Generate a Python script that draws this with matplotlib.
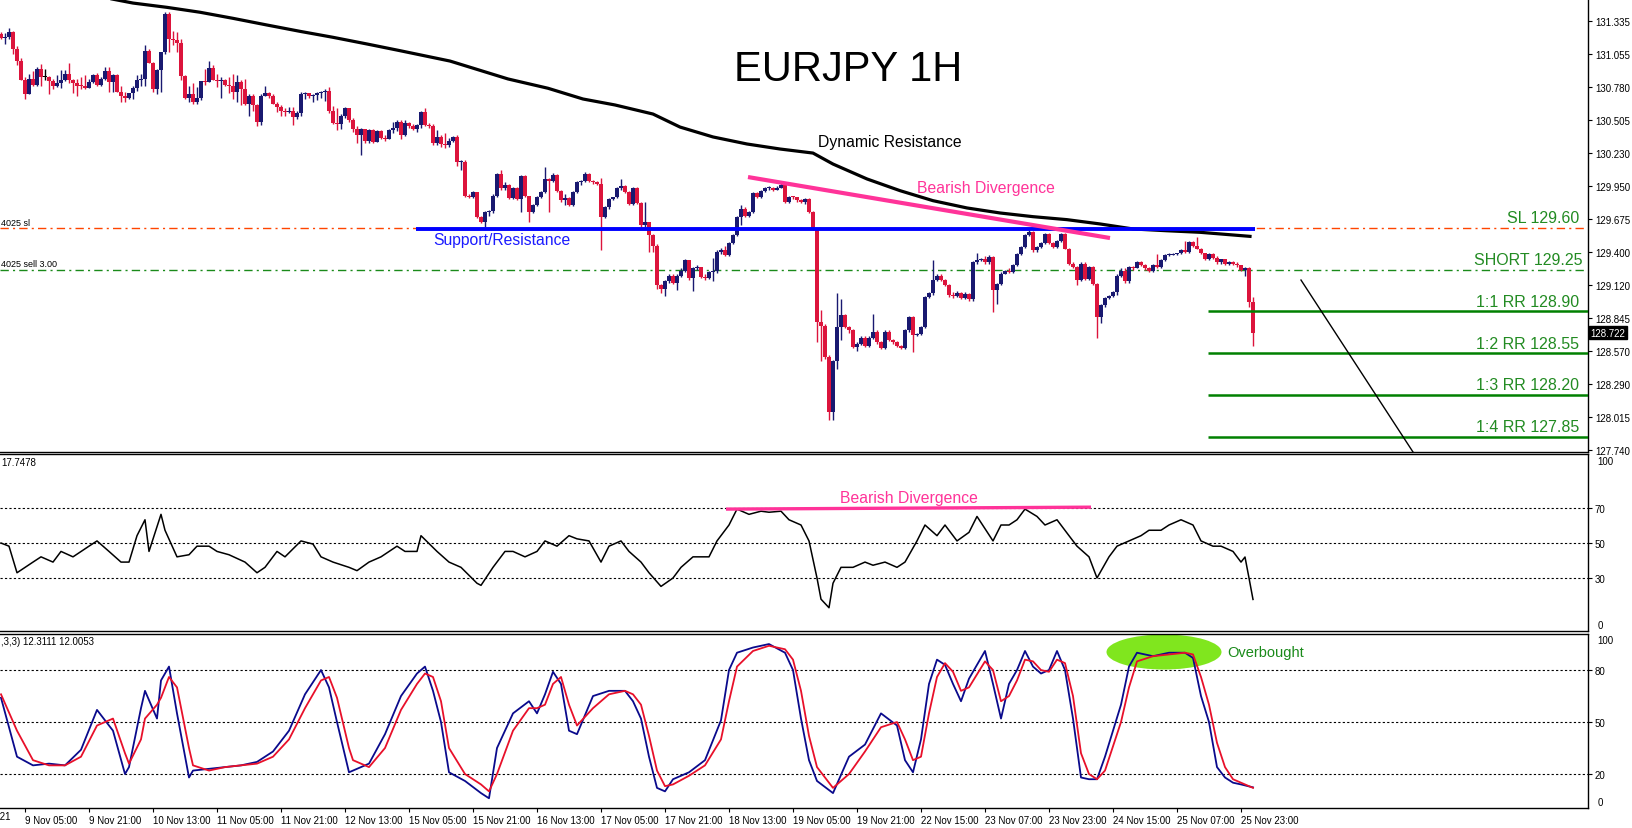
import numpy as np
import matplotlib
matplotlib.use("Agg")
import matplotlib.pyplot as plt
from matplotlib.patches import Ellipse
from matplotlib.transforms import blended_transform_factory as blend

plt.rcParams['font.family'] = ['Liberation Sans', 'DejaVu Sans']

W, H = 1632, 829

# ------- price data (1H candles, open = previous close) -------
first_open = 131.22
closes = [
    131.19, 131.20, 131.24, 131.10, 131.00, 130.84, 130.72, 130.85, 130.80, 130.93,
    130.86, 130.86, 130.83, 130.79, 130.81, 130.84, 130.89, 130.84, 130.81, 130.79,
    130.785, 130.77, 130.82, 130.88, 130.80, 130.85, 130.91, 130.82, 130.88, 130.74,
    130.70, 130.69, 130.73, 130.77, 130.84, 130.845, 131.08, 130.98, 130.76, 130.92,
    131.07, 131.39, 131.18, 131.175, 131.15, 130.87, 130.69, 130.72, 130.65, 130.69,
    130.83, 130.82, 130.94, 130.84, 130.83, 130.835, 130.80, 130.79, 130.74, 130.82,
    130.76, 130.64, 130.70, 130.63, 130.49, 130.70, 130.73, 130.70, 130.64, 130.61,
    130.58, 130.57, 130.58, 130.53, 130.56, 130.72, 130.73, 130.70, 130.71, 130.73,
    130.74, 130.75, 130.58, 130.48, 130.47, 130.54, 130.60, 130.50, 130.43, 130.38,
    130.43, 130.33, 130.42, 130.32, 130.41, 130.35, 130.34, 130.42, 130.44, 130.49,
    130.38, 130.48, 130.45, 130.43, 130.46, 130.57, 130.46, 130.455, 130.31, 130.36,
    130.30, 130.29, 130.33, 130.36, 130.15, 130.155, 129.87, 129.86, 129.90, 129.69,
    129.65, 129.73, 129.74, 129.87, 130.05, 129.93, 129.96, 129.85, 129.93, 129.84,
    130.03, 129.87, 129.73, 129.79, 129.86, 129.90, 130.01, 129.99, 130.045, 129.91,
    129.83, 129.85, 129.79, 129.90, 129.98, 129.99, 130.05, 129.99, 129.98, 129.97,
    129.69, 129.77, 129.84, 129.855, 129.93, 129.95, 129.90, 129.80, 129.93, 129.81,
    129.62, 129.65, 129.54, 129.45, 129.12, 129.09, 129.15, 129.20, 129.14, 129.20,
    129.24, 129.33, 129.18, 129.26, 129.27, 129.19, 129.18, 129.23, 129.235, 129.40,
    129.41, 129.37, 129.47, 129.54, 129.69, 129.76, 129.70, 129.73, 129.89, 129.86,
    129.91, 129.93, 129.935, 129.92, 129.935, 129.96, 129.82, 129.86, 129.855, 129.83,
    129.82, 129.84, 129.73, 129.59, 128.81, 128.78, 128.52, 128.06, 128.48, 128.77,
    128.87, 128.77, 128.74, 128.60, 128.63, 128.68, 128.61, 128.68, 128.73, 128.64,
    128.59, 128.73, 128.66, 128.64, 128.61, 128.59, 128.74, 128.85, 128.70, 128.71,
    128.77, 129.02, 129.05, 129.16, 129.20, 129.16, 129.12, 129.04, 129.03, 129.05,
    129.01, 129.045, 129.00, 129.31, 129.33, 129.34, 129.31, 129.355, 129.08, 129.13,
    129.215, 129.24, 129.23, 129.29, 129.38, 129.44, 129.54, 129.565, 129.41, 129.44,
    129.475, 129.55, 129.47, 129.44, 129.49, 129.55, 129.425, 129.30, 129.27, 129.16,
    129.30, 129.17, 129.27, 129.13, 128.85, 128.95, 129.01, 129.03, 129.06, 129.20,
    129.24, 129.15, 129.27, 129.265, 129.31, 129.29, 129.26, 129.24, 129.29, 129.27,
    129.33, 129.37, 129.375, 129.38, 129.385, 129.41, 129.40, 129.48, 129.45, 129.425,
    129.39, 129.34, 129.38, 129.35, 129.31, 129.335, 129.30, 129.31, 129.30, 129.285,
    129.25, 129.26, 128.98, 128.72,
]
highs = [
    131.24, 131.23, 131.27, 131.25, 131.12, 131.02, 130.86, 130.89, 130.91, 130.95,
    130.97, 130.93, 130.87, 130.85, 130.88, 130.92, 130.92, 130.98, 130.85, 130.85,
    130.86, 130.88, 130.85, 130.89, 130.90, 130.86, 130.95, 130.95, 130.89, 130.89,
    130.79, 130.74, 130.73, 130.79, 130.88, 130.89, 131.13, 131.10, 130.99, 130.93,
    131.07, 131.41, 131.41, 131.25, 131.24, 131.18, 130.88, 130.79, 130.81, 130.78,
    130.83, 130.93, 131.00, 130.96, 130.89, 130.86, 130.85, 130.86, 130.89, 130.88,
    130.84, 130.85, 130.72, 130.72, 130.64, 130.72, 130.79, 130.74, 130.72, 130.65,
    130.63, 130.60, 130.61, 130.61, 130.58, 130.74, 130.74, 130.73, 130.72, 130.74,
    130.75, 130.76, 130.78, 130.62, 130.60, 130.55, 130.61, 130.60, 130.52, 130.45,
    130.44, 130.43, 130.43, 130.43, 130.42, 130.42, 130.38, 130.43, 130.49, 130.50,
    130.50, 130.50, 130.49, 130.47, 130.47, 130.58, 130.60, 130.48, 130.47, 130.42,
    130.38, 130.39, 130.35, 130.37, 130.38, 130.17, 130.17, 129.88, 129.91, 129.90,
    129.70, 129.74, 129.75, 129.88, 130.06, 130.08, 129.98, 129.97, 129.94, 129.94,
    130.04, 130.04, 129.87, 129.80, 129.87, 129.91, 130.11, 130.02, 130.06, 130.05,
    129.92, 129.88, 129.86, 129.91, 129.99, 130.00, 130.07, 130.06, 130.00, 129.99,
    130.02, 129.78, 129.85, 129.86, 129.94, 130.01, 129.96, 129.91, 129.94, 129.94,
    129.82, 129.82, 129.65, 129.55, 129.46, 129.13, 129.16, 129.21, 129.21, 129.21,
    129.26, 129.34, 129.31, 129.27, 129.29, 129.27, 129.21, 129.24, 129.35, 129.41,
    129.43, 129.45, 129.48, 129.55, 129.70, 129.79, 129.77, 129.74, 129.90, 129.90,
    129.92, 129.94, 129.95, 129.94, 129.95, 129.98, 129.97, 129.87, 129.87, 129.86,
    129.84, 129.85, 129.85, 129.74, 129.60, 128.91, 128.79, 128.53, 128.49, 129.05,
    129.00, 128.88, 128.78, 128.75, 128.64, 128.69, 128.69, 128.69, 128.88, 128.74,
    128.65, 128.74, 128.74, 128.67, 128.65, 128.62, 128.75, 128.86, 128.86, 128.72,
    128.78, 129.03, 129.06, 129.33, 129.21, 129.21, 129.17, 129.13, 129.06, 129.07,
    129.06, 129.06, 129.05, 129.32, 129.39, 129.35, 129.36, 129.37, 129.36, 129.14,
    129.23, 129.25, 129.26, 129.30, 129.39, 129.45, 129.55, 129.58, 129.57, 129.45,
    129.48, 129.56, 129.56, 129.48, 129.50, 129.56, 129.56, 129.43, 129.31, 129.28,
    129.31, 129.31, 129.28, 129.28, 129.14, 128.96, 129.02, 129.04, 129.07, 129.21,
    129.26, 129.26, 129.28, 129.28, 129.32, 129.32, 129.30, 129.27, 129.30, 129.38,
    129.34, 129.38, 129.39, 129.39, 129.39, 129.42, 129.49, 129.49, 129.49, 129.52,
    129.43, 129.39, 129.39, 129.39, 129.36, 129.34, 129.34, 129.32, 129.32, 129.31,
    129.29, 129.27, 129.27, 129.02,
]
lows = [
    131.18, 131.14, 131.18, 131.06, 130.96, 130.84, 130.68, 130.72, 130.79, 130.79,
    130.79, 130.84, 130.72, 130.76, 130.78, 130.77, 130.83, 130.81, 130.73, 130.70,
    130.76, 130.76, 130.77, 130.81, 130.79, 130.79, 130.84, 130.74, 130.74, 130.74,
    130.65, 130.65, 130.68, 130.68, 130.75, 130.79, 130.79, 130.98, 130.74, 130.72,
    130.74, 131.06, 131.07, 131.13, 131.07, 130.84, 130.68, 130.65, 130.64, 130.64,
    130.67, 130.80, 130.82, 130.84, 130.78, 130.69, 130.79, 130.73, 130.68, 130.65,
    130.63, 130.63, 130.54, 130.58, 130.45, 130.46, 130.70, 130.69, 130.64, 130.57,
    130.54, 130.54, 130.56, 130.46, 130.51, 130.54, 130.68, 130.69, 130.65, 130.67,
    130.69, 130.66, 130.56, 130.47, 130.42, 130.43, 130.52, 130.49, 130.40, 130.31,
    130.21, 130.31, 130.31, 130.31, 130.32, 130.34, 130.33, 130.34, 130.39, 130.41,
    130.34, 130.37, 130.44, 130.42, 130.40, 130.44, 130.45, 130.44, 130.29, 130.29,
    130.28, 130.27, 130.28, 130.32, 130.12, 130.08, 129.86, 129.85, 129.85, 129.68,
    129.64, 129.61, 129.70, 129.72, 129.86, 129.92, 129.92, 129.84, 129.84, 129.83,
    129.73, 129.86, 129.65, 129.72, 129.78, 129.85, 129.89, 129.73, 129.98, 129.90,
    129.82, 129.79, 129.78, 129.78, 129.89, 129.96, 129.98, 129.98, 129.97, 129.96,
    129.41, 129.68, 129.76, 129.83, 129.85, 129.92, 129.89, 129.79, 129.79, 129.80,
    129.61, 129.61, 129.40, 129.40, 129.09, 129.05, 129.03, 129.14, 129.13, 129.08,
    129.19, 129.23, 129.16, 129.07, 129.25, 129.18, 129.16, 129.17, 129.15, 129.22,
    129.38, 129.36, 129.36, 129.46, 129.53, 129.62, 129.69, 129.69, 129.72, 129.85,
    129.85, 129.90, 129.92, 129.91, 129.92, 129.93, 129.81, 129.81, 129.84, 129.82,
    129.81, 129.80, 129.72, 129.58, 128.64, 128.48, 128.50, 127.99, 127.99, 128.42,
    128.66, 128.76, 128.72, 128.59, 128.57, 128.62, 128.60, 128.60, 128.67, 128.63,
    128.58, 128.58, 128.65, 128.63, 128.60, 128.58, 128.58, 128.73, 128.56, 128.69,
    128.70, 128.76, 129.01, 129.04, 129.15, 129.15, 129.11, 129.02, 129.01, 129.02,
    129.00, 129.00, 128.99, 128.99, 129.30, 129.32, 129.30, 129.30, 128.89, 128.96,
    129.12, 129.21, 129.22, 129.22, 129.28, 129.37, 129.43, 129.53, 129.40, 129.40,
    129.43, 129.46, 129.46, 129.43, 129.43, 129.48, 129.42, 129.29, 129.26, 129.12,
    129.15, 129.16, 129.16, 129.12, 128.68, 128.80, 128.94, 129.00, 129.02, 129.04,
    129.19, 129.14, 129.14, 129.25, 129.26, 129.28, 129.25, 129.23, 129.23, 129.26,
    129.26, 129.32, 129.36, 129.37, 129.37, 129.38, 129.39, 129.39, 129.44, 129.42,
    129.38, 129.33, 129.33, 129.34, 129.30, 129.30, 129.29, 129.29, 129.29, 129.27,
    129.24, 129.20, 128.94, 128.61,
]

# slow moving average ("Dynamic Resistance"), read at sample bars
ma_bar = [27.75, 33, 41.5, 49.75, 58, 66.5, 74.75, 83, 91.5, 99.75, 112.25, 126.75,
          136.75, 145.5, 153.5, 163, 169.75, 178, 186.5, 194.75, 203, 208, 216.5,
          224.75, 233, 241.5, 249.75, 258, 266.5, 274.75, 283, 291.5, 299.75, 312.25]
ma_val = [131.517, 131.483, 131.447, 131.406, 131.355, 131.299, 131.246, 131.196,
          131.140, 131.084, 130.997, 130.847, 130.769, 130.679, 130.629, 130.553,
          130.444, 130.361, 130.302, 130.260, 130.226, 130.134, 130.009, 129.911,
          129.827, 129.766, 129.724, 129.693, 129.668, 129.632, 129.590, 129.575,
          129.562, 129.528]

# RSI(14)
rsi_bar = [0, 2, 4, 8, 10, 13, 15, 18, 22, 24, 27, 30, 32, 34, 36, 37, 40, 41, 44, 47,
           49, 52, 54, 57, 61, 64, 66, 69, 71, 75, 78, 80, 83, 87, 89, 92, 95, 99, 101, 104,
           105, 109, 112, 115, 119, 120, 123, 126, 128, 131, 134, 136, 139, 142, 144, 147,
           150, 152, 155, 157, 160, 162, 165, 168, 170, 173, 177, 179, 182, 184, 187, 190,
           192, 195, 197, 200, 202, 204, 205, 207, 208, 210, 213, 216, 218, 221, 224, 226,
           229, 231, 234, 236, 239, 242, 244, 248, 250, 252, 254, 256, 259, 261, 264, 267,
           269, 272, 274, 277, 279, 282, 285, 287, 290, 292, 295, 298, 300, 303, 305, 308,
           310, 311, 312, 313]
rsi_val = [50, 48.2, 33, 39.1, 42.1, 39.1, 45.2, 42.1, 48.2, 51.2, 45.2, 39.1, 39.1, 54.2,
           63.3, 45.2, 66.4, 57.3, 42.1, 43.3, 48.2, 48.2, 45.2, 43.3, 39.1, 33, 36.1, 45.2,
           42.1, 51.2, 49.4, 42.1, 39.1, 36.1, 34.2, 39.1, 42.1, 48.2, 45.2, 45.2, 54.2, 45.2,
           39.1, 36.1, 27, 25.8, 36.1, 45.2, 45.2, 42.1, 45.2, 51.2, 48.2, 54.2, 52.4, 51.2,
           39.1, 48.2, 51.2, 45.2, 39.1, 33, 25.2, 30, 36.1, 42.1, 42.1, 51.2, 60.3, 69.4,
           66.4, 68.2, 67.6, 68.2, 63.3, 60.3, 51.2, 30, 17.9, 13, 27, 36.1, 36.1, 39.1, 37.3,
           39.1, 36.1, 39.1, 51.2, 60.3, 54.2, 60.3, 51.2, 56.1, 65.2, 51.2, 60.3, 60.3, 63.3,
           69.4, 65.2, 60.3, 63.3, 54.2, 48.2, 42.1, 30, 42.1, 48.2, 51.2, 54.2, 57.3, 57.3,
           60.3, 63.3, 60.3, 51.2, 48.2, 48.2, 45.2, 39.1, 42, 30, 17.75]

# Stochastic(5,3,3): main (blue) and signal (red)
st_bar = [0, 4, 8, 12, 16, 20, 24, 28, 31, 32, 35, 36, 39, 40, 42, 44, 47, 48, 52, 56,
          60, 64, 68, 72, 76, 80, 82, 84, 87, 88, 92, 96, 100, 104, 106, 108, 110, 112, 116, 120,
          122, 124, 128, 132, 134, 136, 138, 140, 142, 144, 148, 152, 156, 158, 160, 162, 164, 166, 168, 172,
          176, 180, 182, 184, 188, 192, 196, 198, 200, 202, 204, 208, 212, 216, 220, 224, 226, 228, 230, 232,
          234, 236, 238, 240, 242, 246, 248, 250, 252, 254, 256, 258, 260, 262, 264, 266, 268, 270, 272, 274,
          276, 278, 280, 282, 284, 288, 292, 296, 298, 300, 302, 304, 306, 308, 310, 313]
st_k = [64, 30, 25, 26, 25, 34, 57, 45, 20, 24, 58, 68, 52, 74, 82, 55, 18, 22, 23, 24,
        25, 27, 33, 45, 66, 80, 70, 50, 21, 22, 26, 43, 65, 78, 82, 68, 50, 21, 16, 9,
        6, 35, 55, 62, 55, 66, 79, 72, 45, 43, 65, 68, 68, 62, 52, 30, 12, 10, 17, 21,
        28, 51, 80, 90, 93, 95, 90, 80, 52, 28, 16, 9, 30, 37, 55, 48, 28, 21, 40, 72,
        86, 83, 72, 62, 75, 91, 72, 52, 72, 80, 91, 82, 78, 80, 91, 80, 52, 18, 17, 17,
        30, 45, 60, 82, 90, 88, 90, 90, 87, 65, 50, 24, 18, 15, 14, 12.31]
st_d = [66, 45, 28, 25, 25, 30, 48, 52, 32, 26, 40, 52, 60, 64, 76, 70, 35, 25, 22, 24,
        25, 26, 30, 40, 58, 74, 76, 64, 35, 28, 24, 35, 57, 72, 78, 76, 62, 35, 20, 14,
        10, 20, 45, 58, 58, 60, 72, 76, 60, 48, 58, 66, 68, 66, 60, 42, 22, 13, 14, 19,
        25, 40, 62, 82, 91, 94, 92, 86, 68, 42, 24, 12, 20, 33, 47, 50, 40, 28, 30, 55,
        76, 84, 79, 68, 70, 85, 80, 62, 65, 74, 86, 85, 80, 79, 86, 84, 65, 32, 20, 17,
        22, 36, 50, 70, 85, 88, 89, 90, 89, 76, 60, 38, 24, 17, 15, 12.01]

price_ticks = [131.335, 131.055, 130.780, 130.505, 130.230, 129.950, 129.675,
               129.400, 129.120, 128.845, 128.570, 128.290, 128.015, 127.740]
date_bars = [6 + 16 * k for k in range(20)]
date_labels = ['9 Nov 05:00', '9 Nov 21:00', '10 Nov 13:00', '11 Nov 05:00', '11 Nov 21:00',
               '12 Nov 13:00', '15 Nov 05:00', '15 Nov 21:00', '16 Nov 13:00', '17 Nov 05:00',
               '17 Nov 21:00', '18 Nov 13:00', '19 Nov 05:00', '19 Nov 21:00', '22 Nov 15:00',
               '23 Nov 07:00', '23 Nov 23:00', '24 Nov 15:00', '25 Nov 07:00', '25 Nov 23:00']

sl_level, short_level = 129.60, 129.25
rr_levels = [128.90, 128.55, 128.20, 127.85]
rr_labels = ['1:1 RR 128.90', '1:2 RR 128.55', '1:3 RR 128.20', '1:4 RR 127.85']
support_level = 129.587
last_price = 128.722

# ------- layout -------
fig = plt.figure(figsize=(W / 100, H / 100), dpi=100)


def box(top, bottom):
    return [0, 1 - bottom / H, 1588 / W, (bottom - top) / H]


ax_p = fig.add_axes(box(0, 453))
ax_r = fig.add_axes(box(455, 632))
ax_s = fig.add_axes(box(635, 809))

for ax in (ax_p, ax_r, ax_s):
    ax.set_xlim(-0.25, 396.75)
    ax.spines['left'].set_visible(False)
    for s in ('right', 'bottom', 'top'):
        ax.spines[s].set_linewidth(1.0)
        ax.spines[s].set_color('black')
    ax.yaxis.tick_right()
    ax.tick_params(axis='y', direction='out', length=3, width=0.8, pad=2, labelsize=7)
    ax.tick_params(axis='x', bottom=False, labelbottom=False)
ax_p.spines['top'].set_visible(False)

# ------- price panel -------
c = np.array(closes)
o = np.r_[first_open, c[:-1]]
hi = np.maximum(np.array(highs), np.maximum(o, c))
lo = np.minimum(np.array(lows), np.minimum(o, c))
x = np.arange(len(c))
cols = np.where(c > o, '#191970', np.where(c < o, '#dc143c', '#000000'))
ax_p.vlines(x, lo, hi, colors=cols, linewidth=1.0, zorder=3)
ax_p.bar(x, np.maximum(np.abs(c - o), 0.009), bottom=np.minimum(o, c), width=0.82,
         color=cols, linewidth=0, zorder=4)

ax_p.set_ylim(127.721, 131.517)
ax_p.set_yticks(price_ticks)
ax_p.set_yticklabels([f'{t:.3f}' for t in price_ticks])

ax_p.plot(ma_bar, ma_val, color='black', linewidth=2.3, zorder=5)

ax_p.axhline(sl_level, color='#ff4500', linewidth=1.0, linestyle=(0, (6, 3, 1.5, 3)), zorder=2)
ax_p.axhline(short_level, color='#1a8a1a', linewidth=1.0, linestyle=(0, (6, 3, 1.5, 3)), zorder=2)
ax_p.hlines(support_level, 103.75, 313.5, color='#0000ff', linewidth=2.8, zorder=6)
ax_p.plot([186.75, 277.25], [130.025, 129.514], color='#ff3399', linewidth=3.0,
          solid_capstyle='butt', zorder=6)
ax_p.hlines(rr_levels, 301.75, 396.75, color='#008000', linewidth=1.8, zorder=6)
ax_p.plot([325, 353], [129.162, 127.721], color='black', linewidth=1.0, zorder=6)

tr_p = blend(ax_p.transAxes, ax_p.transData)
ax_p.text(1579 / 1588, sl_level + 0.02, 'SL 129.60', transform=tr_p, ha='right', va='bottom',
          fontsize=11.5, color='#228b22')
ax_p.text(1582 / 1588, short_level + 0.02, 'SHORT 129.25', transform=tr_p, ha='right',
          va='bottom', fontsize=11.5, color='#228b22')
for lv, lb in zip(rr_levels, rr_labels):
    ax_p.text(1579 / 1588, lv + 0.02, lb, transform=tr_p, ha='right', va='bottom',
              fontsize=11.5, color='#228b22')
ax_p.text(0.0005, sl_level + 0.01, '4025 sl', transform=tr_p, ha='left', va='bottom',
          fontsize=6.5, color='black')
ax_p.text(0.0005, short_level + 0.01, '4025 sell 3.00', transform=tr_p, ha='left',
          va='bottom', fontsize=6.5, color='black')
ax_p.text(1.0015, last_price, f'{last_price:.3f}', transform=tr_p, ha='left', va='center',
          fontsize=7, color='white',
          bbox=dict(boxstyle='square,pad=0.15', facecolor='black', edgecolor='black'))

fig.text(848 / W, 1 - 70 / H, 'EURJPY 1H', ha='center', va='center', fontsize=30)
fig.text(818 / W, 1 - 143 / H, 'Dynamic Resistance', ha='left', va='center', fontsize=11.3)
fig.text(917 / W, 1 - 189 / H, 'Bearish Divergence', ha='left', va='center', fontsize=11.3,
         color='#ff3399')
fig.text(433 / W, 1 - 241 / H, 'Support/Resistance', ha='left', va='center', fontsize=11.3,
         color='#1a1aff')

# ------- RSI panel -------
ax_r.set_ylim(-0.3, 100.9)
for lv in (30, 50, 70):
    ax_r.axhline(lv, color='black', linewidth=0.8, linestyle=(0, (2, 2)), zorder=1)
ax_r.plot(rsi_bar, rsi_val, color='black', linewidth=1.1, zorder=3)
ax_r.plot([181.25, 272.5], [69.4, 70.5], color='#ff3399', linewidth=2.4,
          solid_capstyle='butt', zorder=4)
ax_r.text(0.5 * (181.25 + 272.5), 76, 'Bearish Divergence', ha='center', va='center',
          fontsize=11.3, color='#ff3399')
ax_r.set_yticks([30, 50, 70])
ax_r.set_yticklabels(['30', '50', '70'])
tr_r = blend(ax_r.transAxes, ax_r.transData)
ax_r.text(1.006, 100, '100', transform=tr_r, ha='left', va='top', fontsize=7)
ax_r.text(1.006, 0.5, '0', transform=tr_r, ha='left', va='bottom', fontsize=7)
fig.text(1 / W, 1 - 463 / H, '17.7478', ha='left', va='center', fontsize=7)

# ------- Stochastic panel -------
ax_s.set_ylim(0.4, 100.8)
for lv in (20, 50, 80):
    ax_s.axhline(lv, color='black', linewidth=0.8, linestyle=(0, (2, 2)), zorder=1)
ax_s.add_patch(Ellipse((290.75, 90.4), 28.75, 20.2, facecolor='#80e61e', edgecolor='none',
                       zorder=2))
ax_s.plot(st_bar, st_k, color='#0a0a8c', linewidth=1.3, zorder=3)
ax_s.plot(st_bar, st_d, color='#e8102a', linewidth=1.3, zorder=4)
ax_s.text(306.5, 90.4, 'Overbought', ha='left', va='center', fontsize=10.5, color='#1a8a1a')
ax_s.set_yticks([20, 50, 80])
ax_s.set_yticklabels(['20', '50', '80'])
tr_s = blend(ax_s.transAxes, ax_s.transData)
ax_s.text(1.006, 100, '100', transform=tr_s, ha='left', va='top', fontsize=7)
ax_s.text(1.006, 1, '0', transform=tr_s, ha='left', va='bottom', fontsize=7)
fig.text(1 / W, 1 - 642 / H, ',3,3) 12.3111 12.0053', ha='left', va='center', fontsize=7)

ax_s.set_xticks(date_bars)
ax_s.set_xticklabels(date_labels, ha='left')
ax_s.tick_params(axis='x', bottom=True, labelbottom=True, direction='out', length=3,
                 width=0.8, pad=2, labelsize=7)
ax_s.text(-10, -1.5, '8 Nov 2021', ha='left', va='top', fontsize=7,
          transform=ax_s.transData)

fig.savefig('out.png', dpi=100)
